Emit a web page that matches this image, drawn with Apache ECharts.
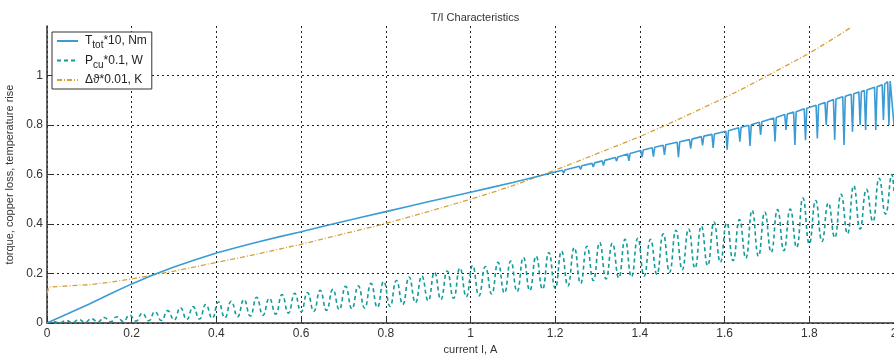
<!DOCTYPE html>
<html>
<head>
<meta charset="utf-8">
<script src="https://cdn.jsdelivr.net/npm/echarts@6/dist/echarts.min.js"></script>
<style>html,body{margin:0;padding:0;background:#fff}#c{width:894px;height:356px}</style>
</head>
<body>
<div id="c"></div>
<script>
// ---- data ----
var chartTitle = 'T/I Characteristics';
var xTicks = [0, 0.2, 0.4, 0.6, 0.8, 1, 1.2, 1.4, 1.6, 1.8, 2];
var yTicks = [0, 0.2, 0.4, 0.6, 0.8, 1];
var seriesNames = ['T_tot*10, Nm', 'P_cu*0.1, W', 'dT*0.01, K'];

var torque = [
 [0,0],[0.05,0.038],[0.1,0.077],[0.15,0.118],[0.2,0.158],[0.25,0.194],[0.3,0.226],[0.35,0.256],[0.4,0.283],
 [0.45,0.306],[0.5,0.328],[0.55,0.349],[0.6,0.369],[0.65,0.39],[0.7,0.41],[0.75,0.43],[0.8,0.45],[0.85,0.47],
 [0.9,0.49],[0.95,0.509],[1.0,0.528],[1.05,0.548],[1.1,0.568],[1.15,0.589],[1.2,0.61],
 [1.217,0.617],[1.22,0.605],[1.223,0.618],
 [1.257,0.633],[1.26,0.62],[1.263,0.635],
 [1.287,0.645],[1.29,0.63],[1.293,0.647],
 [1.311,0.655],[1.314,0.636],[1.317,0.657],
 [1.342,0.669],[1.345,0.654],[1.348,0.671],
 [1.371,0.683],[1.374,0.655],[1.377,0.685],
 [1.402,0.697],[1.405,0.67],[1.408,0.699],
 [1.429,0.708],[1.432,0.672],[1.435,0.71],
 [1.455,0.718],[1.458,0.679],[1.461,0.72],
 [1.488,0.73],[1.491,0.67],[1.494,0.732],
 [1.517,0.741],[1.52,0.705],[1.523,0.743],
 [1.545,0.753],[1.548,0.718],[1.551,0.755],
 [1.57,0.762],[1.573,0.707],[1.576,0.764],
 [1.603,0.775],[1.606,0.7],[1.609,0.777],
 [1.633,0.789],[1.636,0.733],[1.639,0.791],
 [1.657,0.799],[1.66,0.715],[1.663,0.801],
 [1.682,0.811],[1.685,0.76],[1.688,0.813],
 [1.716,0.828],[1.719,0.733],[1.722,0.83],
 [1.742,0.842],[1.745,0.78],[1.748,0.844],
 [1.763,0.852],[1.766,0.719],[1.769,0.854],
 [1.788,0.866],[1.791,0.739],[1.794,0.868],
 [1.816,0.88],[1.819,0.746],[1.822,0.882],
 [1.837,0.891],[1.84,0.8],[1.843,0.893],
 [1.857,0.903],[1.86,0.74],[1.863,0.905],
 [1.879,0.914],[1.882,0.719],[1.885,0.916],
 [1.899,0.924],[1.902,0.773],[1.905,0.926],
 [1.917,0.933],[1.92,0.8],[1.923,0.935],
 [1.93,0.939],[1.933,0.78],[1.936,0.941],
 [1.954,0.953],[1.957,0.78],[1.96,0.955],
 [1.972,0.963],[1.975,0.82],[1.978,0.965],
 [1.985,0.975],[1.988,0.8],[1.991,0.978],[1.995,0.975],[2.0,0.8]
];

var copperLoss = [
 [0,0],[0.015,0.006],[0.03,0.001],[0.045,0.01],[0.06,0.002],[0.075,0.014],[0.09,0.003],[0.105,0.017],
 [0.12,0.004],[0.135,0.022],[0.15,0.005],[0.165,0.025],[0.18,0.006],[0.195,0.032],[0.21,0.008],[0.225,0.04],
 [0.24,0.009],[0.255,0.046],[0.27,0.01],[0.285,0.05],[0.3,0.012],[0.315,0.062],[0.33,0.014],[0.345,0.066],
 [0.36,0.016],[0.375,0.075],[0.39,0.019],[0.405,0.085],[0.42,0.021],[0.435,0.088],[0.45,0.025],[0.465,0.095],
 [0.48,0.028],[0.495,0.104],[0.51,0.031],[0.525,0.1],[0.54,0.036],[0.555,0.115],[0.57,0.04],[0.585,0.12],
 [0.6,0.045],[0.615,0.123],[0.63,0.047],[0.645,0.132],[0.66,0.051],[0.675,0.136],[0.69,0.054],[0.705,0.148],
 [0.72,0.057],[0.735,0.15],[0.75,0.06],[0.765,0.16],[0.78,0.063],[0.795,0.168],[0.81,0.067],[0.825,0.172],
 [0.84,0.075],[0.855,0.186],[0.87,0.082],[0.885,0.19],[0.9,0.09],[0.915,0.205],[0.93,0.095],[0.945,0.21],
 [0.96,0.1],[0.975,0.222],[0.99,0.106],[1.005,0.232],[1.02,0.11],[1.035,0.228],[1.05,0.117],[1.065,0.245],
 [1.08,0.121],[1.095,0.25],[1.11,0.127],[1.125,0.265],[1.14,0.131],[1.155,0.27],[1.17,0.136],[1.185,0.285],
 [1.2,0.14],[1.215,0.29],[1.23,0.15],[1.245,0.305],[1.26,0.16],[1.275,0.31],[1.29,0.172],[1.305,0.325],
 [1.32,0.178],[1.335,0.322],[1.35,0.182],[1.365,0.338],[1.38,0.186],[1.395,0.342],[1.41,0.19],[1.425,0.338],
 [1.44,0.197],[1.455,0.36],[1.47,0.205],[1.485,0.375],[1.5,0.215],[1.515,0.38],[1.53,0.222],[1.545,0.392],
 [1.56,0.232],[1.575,0.408],[1.59,0.245],[1.605,0.405],[1.62,0.252],[1.635,0.418],[1.65,0.262],[1.665,0.455],
 [1.68,0.27],[1.695,0.448],[1.71,0.285],[1.725,0.458],[1.74,0.292],[1.755,0.46],[1.77,0.305],[1.785,0.505],
 [1.8,0.32],[1.815,0.495],[1.83,0.33],[1.845,0.485],[1.86,0.345],[1.875,0.52],[1.89,0.36],[1.905,0.555],
 [1.92,0.38],[1.935,0.54],[1.95,0.41],[1.965,0.585],[1.98,0.44],[1.995,0.6],[2.0,0.52]
];

var tempRise = [
 [0,0.12],[0.005,0.145],[0.05,0.15],[0.1,0.155],[0.15,0.165],[0.2,0.178],[0.25,0.194],[0.3,0.21],[0.35,0.227],
 [0.4,0.245],[0.45,0.262],[0.5,0.28],[0.55,0.299],[0.6,0.318],[0.65,0.339],[0.7,0.36],[0.75,0.381],[0.8,0.402],
 [0.85,0.426],[0.9,0.45],[0.95,0.475],[1.0,0.5],[1.05,0.527],[1.1,0.555],[1.15,0.586],[1.2,0.618],[1.25,0.651],
 [1.3,0.685],[1.35,0.719],[1.4,0.753],[1.45,0.791],[1.5,0.83],[1.55,0.87],[1.6,0.91],[1.65,0.953],[1.7,0.998],
 [1.75,1.044],[1.8,1.09],[1.85,1.142],[1.9,1.196]
];

var colors = ['#3a9bd5', '#139c98', '#d6a238'];

var legendRich = {
  'T_tot*10, Nm': '{n|T}{s|tot}{n|*10, Nm}',
  'P_cu*0.1, W': '{n|P}{s|cu}{n|*0.1, W}',
  'dT*0.01, K': '{n|\u0394\u03d1*0.01, K}'
};

var chart = echarts.init(document.getElementById('c'), null, {renderer: 'canvas'});
var font = 'Liberation Sans, Arial, sans-serif';
chart.setOption({
  animation: false,
  backgroundColor: '#fff',
  textStyle: {fontFamily: font},
  title: {
    text: chartTitle, left: 470, top: 7, textAlign: 'center',
    textStyle: {fontSize: 11, fontWeight: 'normal', color: '#333', fontFamily: font}
  },
  legend: {
    left: 52, top: 32, orient: 'vertical',
    backgroundColor: '#fff', borderColor: '#333', borderWidth: 1,
    padding: [3, 5, 3, 4], itemGap: 4, itemWidth: 21, itemHeight: 14,
    data: seriesNames,
    itemStyle: {opacity: 0, borderWidth: 0},
    formatter: function (n) { return legendRich[n]; },
    textStyle: {
      fontFamily: font, color: '#222', padding: [0, 0, 0, 2],
      rich: {
        n: {fontSize: 12, color: '#222', fontFamily: font},
        s: {fontSize: 10, color: '#222', fontFamily: font, padding: [9, 0, 0, 0]}
      }
    }
  },
  grid: {left: 47, right: 0, top: 26, bottom: 33, containLabel: false, outerBoundsMode: 'none'},
  xAxis: {
    type: 'value', min: 0, max: 2, interval: 0.2,
    name: 'current I, A', nameLocation: 'middle', nameGap: 20,
    nameTextStyle: {fontSize: 11, color: '#333', fontFamily: font},
    axisLine: {show: true, lineStyle: {color: '#333', width: 1.5}},
    axisTick: {show: true, inside: true, length: 5, lineStyle: {color: '#333'}},
    axisLabel: {fontSize: 12, color: '#333', margin: 5, fontFamily: font,
      formatter: function (v) { return String(+v.toFixed(1)); }},
    splitLine: {show: true, lineStyle: {color: '#222', type: [2, 3], width: 1}}
  },
  yAxis: {
    type: 'value', min: 0, max: 1.2, interval: 0.2,
    name: 'torque, copper loss, temperature rise', nameLocation: 'middle', nameGap: 30,
    nameTextStyle: {fontSize: 11, color: '#333', fontFamily: font},
    axisLine: {show: true, lineStyle: {color: '#333', width: 1.5}},
    axisTick: {show: true, inside: true, length: 5, lineStyle: {color: '#333'}},
    axisLabel: {fontSize: 12, color: '#333', margin: 4, fontFamily: font, showMaxLabel: false,
      formatter: function (v) { return String(+v.toFixed(1)); }},
    splitLine: {show: true, showMaxLine: false, lineStyle: {color: '#222', type: [2, 3], width: 1}}
  },
  series: [
    {name: seriesNames[0], type: 'line', data: torque, symbol: 'none', clip: true,
     color: colors[0], lineStyle: {color: colors[0], width: 1.6}, z: 3},
    {name: seriesNames[1], type: 'line', data: copperLoss, symbol: 'none', smooth: 0.5, clip: true,
     color: colors[1], lineStyle: {color: colors[1], width: 1.6, type: [4, 3]}, z: 2},
    {name: seriesNames[2], type: 'line', data: tempRise, symbol: 'none', clip: true,
     color: colors[2], lineStyle: {color: colors[2], width: 1.3, type: [5, 2, 1, 2]}, z: 1}
  ]
});
</script>
</body>
</html>
